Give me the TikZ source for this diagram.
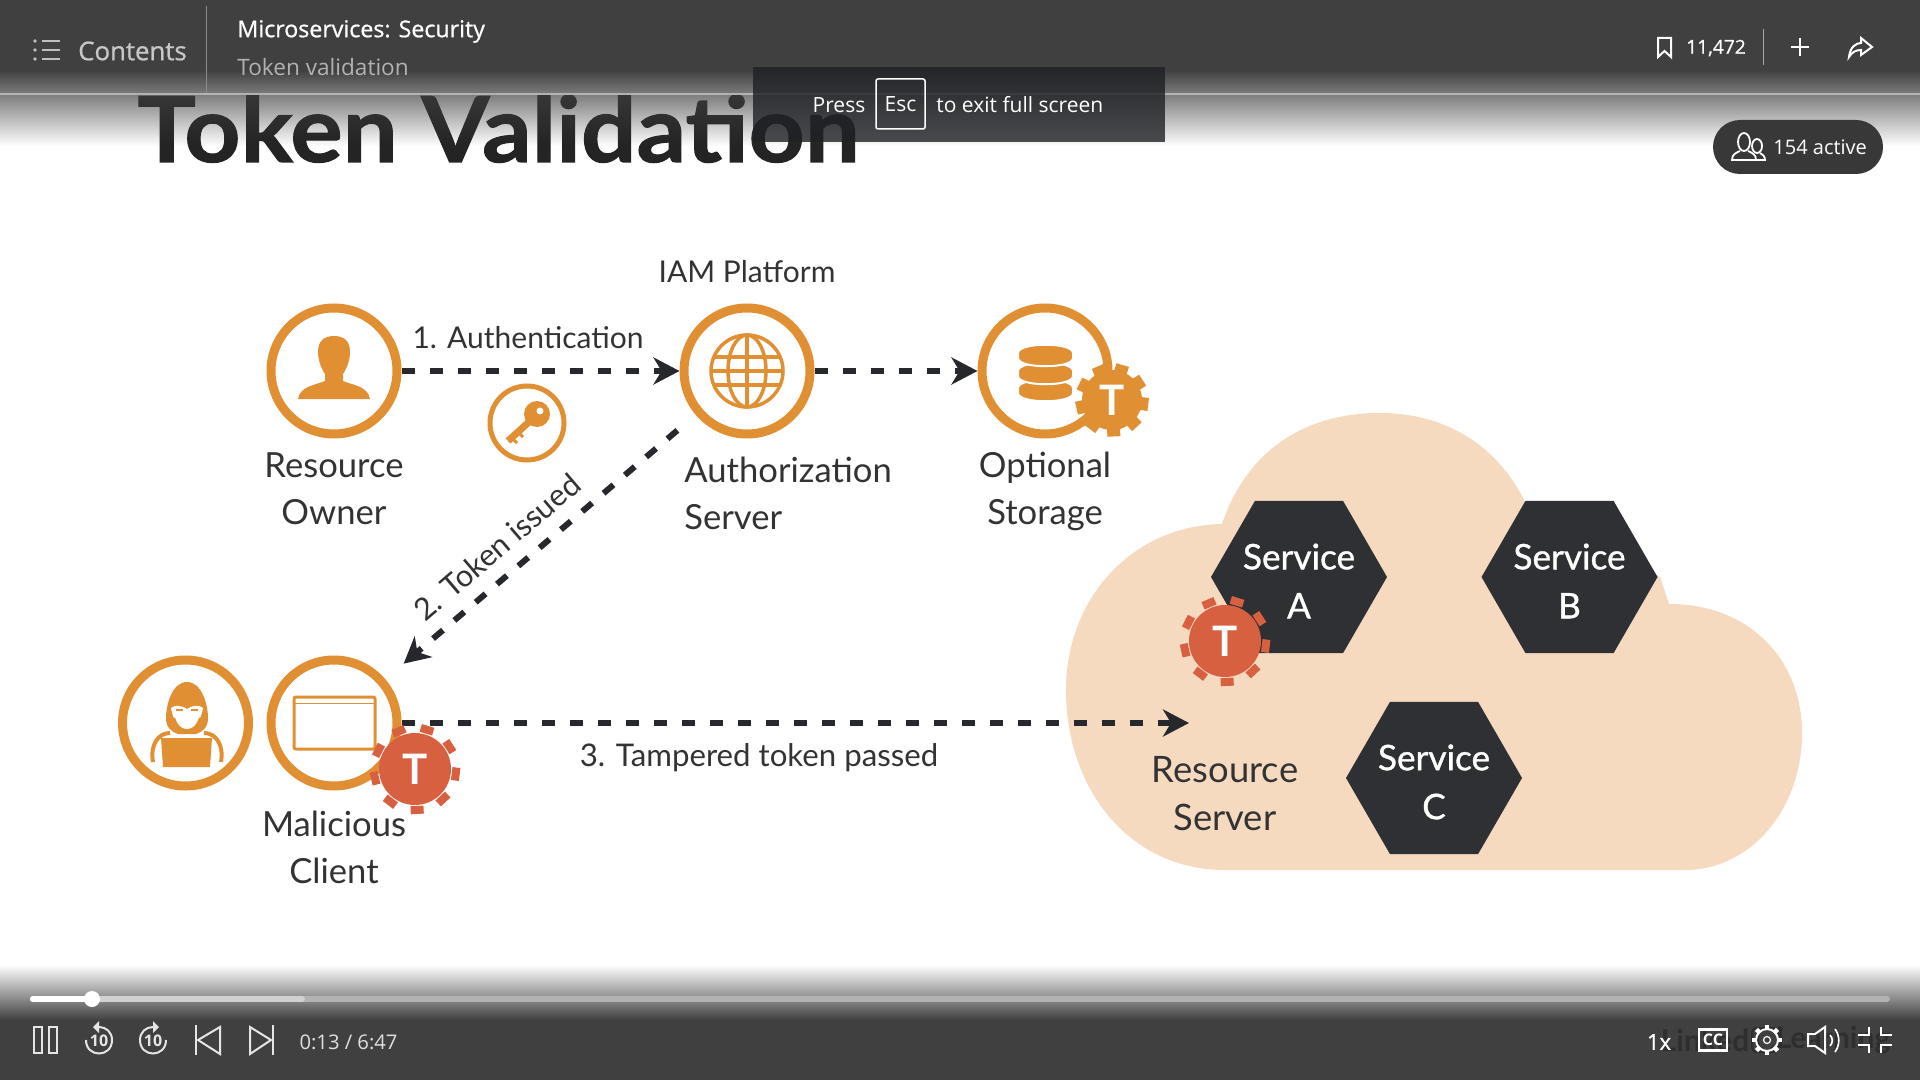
\documentclass[tikz,border=0pt]{standalone}
\usepackage{fontspec}
\usepackage{xcolor}
\usetikzlibrary{shapes,shapes.geometric,arrows.meta,fadings}
\setmainfont{Lato}
\newfontfamily\uifont{Open Sans}
\newfontfamily\uisemi[FakeBold=0.8]{Open Sans}
\newfontfamily\servicefont[FakeBold=1]{Lato}
\newfontfamily\titlefont[FakeStretch=1.075,BoldFeatures={FakeBold=1.2}]{Lato}
\definecolor{ringcol}{HTML}{E08F33}
\definecolor{tokenred}{HTML}{D6603F}
\definecolor{cloudcol}{HTML}{F5DAC0}
\definecolor{hexcol}{HTML}{2E3033}
\definecolor{inkcol}{HTML}{333333}
\definecolor{arrowcol}{HTML}{26282B}
\definecolor{barcol}{HTML}{404040}
\definecolor{toastcol}{HTML}{1E2024}
\tikzfading[name=fadedown, top color=transparent!0, bottom color=transparent!100]
\tikzfading[name=fadeup, top color=transparent!100, bottom color=transparent!0]
\tikzstyle{ring} = [circle, draw=ringcol, line width=4.5pt, minimum size=63pt, inner sep=0pt]
\tikzstyle{caption} = [text=inkcol, align=center, font=\fontsize{17.3}{23.5}\selectfont]
\tikzstyle{edgetext} = [text=inkcol, font=\fontsize{15.3}{18}\selectfont]
\tikzstyle{service} = [regular polygon, regular polygon sides=6, minimum size=88pt, inner sep=0pt, fill=hexcol]
\tikzstyle{servicetext} = [text=white, align=center, inner sep=0pt, font=\servicefont\fontsize{17.6}{24.5}\selectfont]
\tikzstyle{uitext} = [text=white, inner sep=0pt, font=\uifont\fontsize{10.5}{12}\selectfont]
\tikzset{
  myarrow/.style={-{Stealth[length=13pt,width=13.5pt,inset=4pt]}, line width=3pt, dash pattern=on 6.5pt off 7.5pt, color=arrowcol},
  uiline/.style={draw=white, line width=1.25pt},
  orangeline/.style={draw=ringcol, line width=1.75pt},
}
\newcommand{\tokengear}[7]{
  \begin{scope}[shift={(#2)}]
    \foreach \ang in {-73,-33,...,247}
      \draw[#3, line width=#7pt] (\ang:#5) -- (\ang:#6);
  \end{scope}
  \node[circle, fill=#3, minimum size=#4pt, inner sep=0pt, text=white, font=\bfseries\fontsize{21}{21}\selectfont](#1) at (#2){T};
}

\begin{document}
\begin{tikzpicture}[x=0.5pt, y=-0.5pt, node distance=10pt]
    \useasboundingbox (0,0) rectangle (1920,1080);
    \fill[white] (0,0) rectangle (1920,1080);
    \node[anchor=base west, inner sep=0pt, text=inkcol!70!black, font=\titlefont\bfseries\fontsize{45.5}{47}\selectfont](title) at (137,162){Token Validation};

    \fill[cloudcol] (1225,870) .. controls (1130,870) and (1066,790) .. (1066,690)
        .. controls (1066,600) and (1130,526) .. (1222,524)
        .. controls (1245,455) and (1300,413) .. (1380,413)
        .. controls (1450,413) and (1500,450) .. (1525,502)
        -- (1660,577) -- (1669,604)
        .. controls (1750,604) and (1802,660) .. (1802,733)
        .. controls (1802,810) and (1750,870) .. (1685,870) -- cycle;

    \node[ring](owner) at (334,371){};
    \node[ring, right of=owner, node distance=206.5pt](auth){};
    \node[ring, right of=auth, node distance=149pt](storage){};
    \node[ring, below of=owner, node distance=176pt](client){};
    \node[ring, left of=client, node distance=74.25pt](hacker){};
    \node[circle, draw=ringcol, line width=2.5pt, minimum size=37pt, inner sep=0pt](keyring) at (527,423){};

    \node[edgetext, font=\fontsize{15}{18}\selectfont](iamlabel) at (747,272){IAM Platform};
    \node[edgetext, font=\fontsize{15}{18}\selectfont](authnlabel) at (528,338){1. Authentication};
    \node[caption, below of=owner, node distance=58.75pt](ownerlabel){Resource\\Owner};
    \node[caption, anchor=west, align=left, inner sep=0pt](authlabel) at (684,493.5){Authorization\\Server};
    \node[caption, below of=storage, node distance=60pt](storagelabel){Optional\\Storage};
    \node[caption, below of=client, node distance=62.25pt](clientlabel){Malicious\\Client};
    \node[edgetext, rotate=40.4](issuedlabel) at (497,547){2. Token issued};
    \node[edgetext, font=\fontsize{15.6}{18}\selectfont](tamperlabel) at (759,757.5){3. Tampered token passed};
    \node[caption, font=\fontsize{18.2}{24}\selectfont](serverlabel) at (1225,793.5){Resource\\Server};

    \node[service](servicea) at (1299,577){};
    \node[service](serviceb) at (1569.5,577){};
    \node[service](servicec) at (1434,778){};
    \node[servicetext, below of=servicea, node distance=2pt](servicealabel){Service\\A};
    \node[servicetext, below of=serviceb, node distance=2pt](serviceblabel){Service\\B};
    \node[servicetext, below of=servicec, node distance=2pt](serviceclabel){Service\\C};

    \coordinate (tamperend) at (1189,723);
    \draw[myarrow](owner.east)--(auth.west);
    \draw[myarrow](auth.east)--(storage.west);
    \draw[myarrow, shorten <=12pt, shorten >=12pt](auth)--(client);
    \draw[myarrow](client.east)--(tamperend);

    \fill[ringcol] (334,336) .. controls (345,336) and (350,342) .. (350,352) .. controls (350,360) and (347,368) .. (343,374) -- (343,381)
        .. controls (352,385) and (368,386) .. (370,399) -- (298,399) .. controls (300,386) and (316,385) .. (325,381) -- (325,374)
        .. controls (321,368) and (318,360) .. (318,352) .. controls (318,342) and (323,336) .. (334,336) -- cycle;

    \draw[orangeline] (747,371) circle (36);
    \draw[orangeline] (747,371) ellipse (19 and 36);
    \draw[orangeline] (747,335) -- (747,407);
    \draw[orangeline] (715,357) -- (779,357);
    \draw[orangeline] (711,371) -- (783,371);
    \draw[orangeline] (715,385) -- (779,385);

    \foreach \y in {388,371,353}
      \fill[ringcol, draw=white, line width=1pt] (1018,\y) .. controls (1018,\y-11) and (1073,\y-11) .. (1073,\y) -- (1073,\y+5)
          .. controls (1073,\y+16) and (1018,\y+16) .. (1018,\y+5) -- cycle;

    \fill[ringcol] (537,414) circle (13);
    \fill[white] (540,411) circle (3.5);
    \draw[ringcol, line width=3.5pt] (530,421) -- (508,441);
    \draw[ringcol, line width=1.5pt] (512,438) -- (517,443);
    \draw[ringcol, line width=1.5pt] (518,432) -- (523,437);

    \draw[ringcol, line width=1.5pt, rounded corners=1pt] (294,697) rectangle (375,749);
    \draw[ringcol, line width=0.5pt] (294,703) -- (375,703);

    \fill[ringcol] (187,682) .. controls (172,682) and (166,705) .. (166,718) .. controls (166,728) and (172,732) .. (178,734) -- (196,734)
        .. controls (202,732) and (208,728) .. (208,718) .. controls (208,705) and (202,682) .. (187,682) -- cycle;
    \fill[white] (171,708) .. controls (175,704) and (183,706) .. (187,709) .. controls (191,706) and (199,704) .. (203,708)
        .. controls (201,720) and (195,729) .. (187,729) .. controls (179,729) and (173,720) .. (171,708) -- cycle;
    \draw[ringcol, line width=0.75pt] (176,710) -- (183,710);
    \draw[ringcol, line width=0.75pt] (191,710) -- (198,710);
    \draw[ringcol, line width=1pt] (174,718) .. controls (177,727) and (183,731) .. (187,731) .. controls (191,731) and (197,727) .. (200,718);
    \draw[ringcol, line width=2pt] (153,762) .. controls (150,745) and (158,733) .. (170,733);
    \draw[ringcol, line width=2pt] (221,762) .. controls (224,745) and (216,733) .. (204,733);
    \fill[ringcol] (161,738) -- (212,738) -- (210,767) -- (163,767) -- cycle;

    \tokengear{storagetoken}{1112,400}{ringcol}{30}{27}{36.5}{6.5}
    \tokengear{clienttoken}{415,769}{tokenred}{36}{37}{45}{6.5}
    \tokengear{servicetoken}{1225,641}{tokenred}{36}{37}{45}{6.5}

    \fill[barcol] (-20,-20) rectangle (1940,70);
    \fill[barcol, path fading=fadedown] (-20,70) rectangle (1940,146);
    \fill[barcol, path fading=fadeup] (-20,965) rectangle (1940,1020);
    \fill[barcol] (-20,1020) rectangle (1940,1100);
    \draw[color=black!30, line width=1pt] (0,94) -- (1920,94);
    \draw[color=black!45, line width=0.5pt] (206,6) -- (206,93);

    \foreach \y in {41,50,59}{
      \fill[black!25] (35,\y) circle (1.8);
      \draw[black!25, line width=1pt] (42,\y) -- (60,\y);
    }
    \node[uitext, text=black!22, font=\uisemi\fontsize{12.9}{14}\selectfont](contents) at (132.5,51){Contents};
    \node[uitext, anchor=west, font=\uisemi\fontsize{11.6}{13}\selectfont](course) at (237,31.5){Microservices: Security};
    \node[uitext, anchor=west, text=black!30, font=\uifont\fontsize{11.3}{13}\selectfont](lesson) at (237,67){Token validation};

    \fill[toastcol, opacity=0.8] (753,67) rectangle (1165,142);
    \node[uitext](press) at (839,105){Press};
    \node[uitext, draw=white, line width=0.75pt, minimum width=24.5pt, minimum height=25pt, rounded corners=1pt](esc) at (900.5,104){Esc};
    \node[uitext, anchor=west](exitmsg) at (936,105){to exit full screen};

    \draw[uiline, line width=1pt] (1658,38) -- (1671,38) -- (1671,57) -- (1664.5,51) -- (1658,57) -- cycle;
    \node[uitext, font=\uisemi\fontsize{9.6}{12}\selectfont](saves) at (1716,48){11,472};
    \draw[color=black!35, line width=0.5pt] (1763,29) -- (1763,65);
    \draw[uiline] (1791,47) -- (1809,47);
    \draw[uiline] (1800,38) -- (1800,56);
    \draw[uiline, line width=1pt] (1849,57) .. controls (1850,47) and (1856,43) .. (1861,43) -- (1861,38) -- (1872,47) -- (1861,55) -- (1861,50)
        .. controls (1856,50) and (1852,52) .. (1849,57) -- cycle;

    \node[fill=black!78, minimum width=85pt, minimum height=27pt, rounded corners=13.5pt, inner sep=0pt](badge) at (1798,147){};
    \node[uitext, anchor=west, font=\uifont\fontsize{10}{12}\selectfont](activecount) at (1773,147.5){154 active};
    \draw[uiline, line width=0.9pt] (1744,142) ellipse (6 and 9);
    \draw[uiline, line width=0.9pt] (1740,151) .. controls (1736,153) and (1732,154) .. (1732,160) -- (1756,160) .. controls (1756,154) and (1752,153) .. (1748,151);
    \draw[uiline, line width=0.9pt] (1757,146) ellipse (5 and 7);
    \draw[uiline, line width=0.9pt] (1756,160) -- (1765,160) .. controls (1765,156) and (1762,154) .. (1760,153);

    \node[text=black!82, inner sep=0pt, font=\bfseries\fontsize{15}{15}\selectfont](markone) at (1705,1040){Linked};
    \node[draw=black!82, text=black!82, line width=1pt, rounded corners=2pt, inner sep=1.5pt, font=\bfseries\fontsize{12}{12}\selectfont](marktwo) at (1765,1040){in};
    \node[text=black!82, inner sep=0pt, font=\bfseries\fontsize{15}{15}\selectfont](markthree) at (1833,1040){Learning};

    \coordinate (trackstart) at (33,999);
    \coordinate (trackend) at (1887,999);
    \coordinate (bufferend) at (302,999);
    \draw[black!30, line width=3pt, line cap=round](trackstart)--(trackend);
    \draw[black!18, line width=3pt, line cap=round](trackstart)--(bufferend);
    \draw[white, line width=3pt, line cap=round](trackstart)--(92,999);
    \node[circle, fill=white, minimum size=8pt, inner sep=0pt](knob) at (92,999){};

    \draw[uiline, draw=black!10, line width=1pt] (33.5,1027) rectangle (41.5,1053);
    \draw[uiline, draw=black!10, line width=1pt] (49,1027) rectangle (57,1053);

    \draw[uiline, draw=black!10, line width=1pt] (99,1027) .. controls (106,1027) and (112,1032) .. (112,1040) .. controls (112,1058) and (86,1058) .. (86,1040);
    \fill[black!10] (99,1021) -- (93,1027) -- (99,1033) -- cycle;
    \node[uitext, text=black!10, font=\uifont\bfseries\fontsize{8}{8}\selectfont](backten) at (99,1041){10};
    \draw[uiline, draw=black!10, line width=1pt] (153,1027) .. controls (146,1027) and (140,1032) .. (140,1040) .. controls (140,1058) and (166,1058) .. (166,1040);
    \fill[black!10] (153,1021) -- (159,1027) -- (153,1033) -- cycle;
    \node[uitext, text=black!10, font=\uifont\bfseries\fontsize{8}{8}\selectfont](fwdten) at (153,1041){10};

    \draw[uiline, draw=black!10] (196,1025) -- (196,1055);
    \draw[uiline, draw=black!10, line width=1pt] (198,1040) -- (220,1027) -- (220,1054) -- cycle;
    \draw[uiline, draw=black!10] (273,1025) -- (273,1055);
    \draw[uiline, draw=black!10, line width=1pt] (271,1040) -- (250,1027) -- (250,1054) -- cycle;
    \node[uitext, text=black!12, font=\uifont\fontsize{10.1}{12}\selectfont](timer) at (348.5,1042){0:13 / 6:47};

    \node[uitext, font=\uisemi\fontsize{11}{12}\selectfont](speed) at (1659,1042){1x};
    \node[uitext, draw=white, line width=1.25pt, minimum width=14pt, minimum height=10.5pt, font=\uifont\bfseries\fontsize{8}{8}\selectfont](captions) at (1713,1040){CC};
    \draw[uiline, line width=1pt] (1767,1040) circle (11);
    \foreach \ang in {0,45,...,315}
      \draw[uiline, line width=2.2pt] ([shift={(\ang:10)}]1767,1040) -- ([shift={(\ang:15)}]1767,1040);
    \fill[barcol] (1767,1040) circle (8);
    \draw[uiline, line width=0.6pt] (1767,1040) circle (3.5);
    \draw[uiline, line width=1pt] (1808,1034) -- (1815,1034) -- (1825,1027) -- (1825,1053) -- (1815,1046) -- (1808,1046) -- cycle;
    \draw[uiline, line width=0.8pt] (1830,1035) .. controls (1833,1038) and (1833,1043) .. (1830,1046);
    \draw[uiline, line width=0.8pt] (1835,1029) .. controls (1840,1036) and (1840,1045) .. (1835,1052);
    \draw[uiline] (1858,1035) -- (1869,1035) -- (1869,1027);
    \draw[uiline] (1892,1035) -- (1881,1035) -- (1881,1027);
    \draw[uiline] (1858,1045) -- (1869,1045) -- (1869,1053);
    \draw[uiline] (1892,1045) -- (1881,1045) -- (1881,1053);
\end{tikzpicture}
\end{document}
